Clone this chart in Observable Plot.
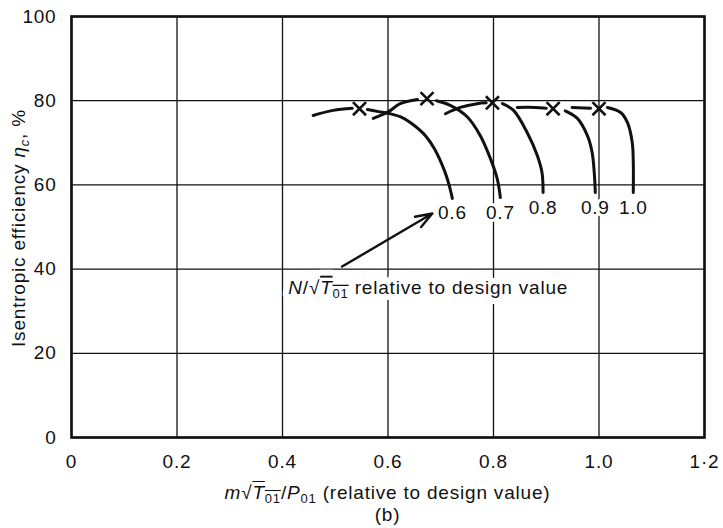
<!DOCTYPE html>
<html>
<head>
<meta charset="utf-8">
<script src="https://cdn.jsdelivr.net/npm/d3@7"></script>
<script src="https://cdn.jsdelivr.net/npm/@observablehq/plot@0.6"></script>
<style>
  html, body { margin: 0; padding: 0; background: #fff; }
  body { font-family: "Liberation Sans", Arial, Helvetica, sans-serif; color: #111; }
  #wrap { position: relative; width: 723px; height: 528px; overflow: hidden; }
  svg text { letter-spacing: 0.8px; }
  #xlabel, #caption { width: 633px; padding-left: 71px; text-align: center; font-size: 19px; line-height: 22px; letter-spacing: 0.8px; }
  #xlabel { margin-top: 7px; }
  #ylabel { position: absolute; left: 19px; top: 228px; transform: translate(-50%, -50%) rotate(-90deg); white-space: nowrap; font-size: 19px; letter-spacing: 0.8px; }
  sub { font-size: 13px; vertical-align: -4px; line-height: 0; }
  .ov { text-decoration: overline; }
</style>
</head>
<body>
<div id="wrap">
  <div id="chart"></div>
  <div id="xlabel"><i>m</i>√<span class="ov"><i>T</i><sub>01</sub></span>/<i>P</i><sub>01</sub> (relative to design value)</div>
  <div id="caption">(b)</div>
  <div id="ylabel">Isentropic efficiency <i>η<sub>c</sub></i>, %</div>
</div>
<script>
// ---- data ----
const speeds = ["0.6", "0.7", "0.8", "0.9", "1.0"];

const flow06 = [0.458, 0.496, 0.532, 0.561, 0.582, 0.604, 0.627, 0.648, 0.671, 0.688, 0.707, 0.716, 0.722];
const eff06  = [76.5, 77.7, 78.2, 77.9, 77.4, 76.9, 76.0, 74.3, 71.7, 68.6, 63.4, 59.9, 56.8];

const flow07 = [0.572, 0.601, 0.623, 0.656, 0.692, 0.718, 0.750, 0.775, 0.794, 0.807, 0.813];
const eff07  = [75.8, 77.4, 79.3, 80.3, 80.0, 78.9, 76.2, 71.7, 66.3, 61.5, 57.0];

const flow08 = [0.709, 0.737, 0.769, 0.786, 0.817, 0.838, 0.864, 0.883, 0.892, 0.894];
const eff08  = [76.9, 78.4, 79.3, 79.5, 79.3, 77.7, 72.4, 67.0, 62.9, 58.2];

const flow09 = [0.845, 0.879, 0.900, 0.936, 0.959, 0.978, 0.987, 0.991, 0.993];
const eff09  = [78.4, 78.4, 78.2, 77.6, 75.8, 71.7, 67.7, 62.9, 58.2];

const flow10 = [0.949, 0.984, 1.016, 1.041, 1.054, 1.063, 1.065, 1.065];
const eff10  = [78.4, 78.2, 78.4, 77.2, 74.8, 70.1, 65.3, 58.2];

// design-point (×) markers on each speed line
const designFlow = [0.546, 0.674, 0.798, 0.913, 1.000];
const designEff  = [78.1, 80.5, 79.5, 78.1, 78.1];

const xTicks = [0, 0.2, 0.4, 0.6, 0.8, 1.0, 1.2];
const xTickLabels = ["0", "0.2", "0.4", "0.6", "0.8", "1.0", "1·2"];
const yTicks = [0, 20, 40, 60, 80, 100];

const annotationText = "N/√T01 relative to design value";
const annotationAt = {flow: 0.411, eff: 35.6};
const arrowFrom = {flow: 0.513, eff: 40.6};
const arrowTo = {flow: 0.684, eff: 53.2};

// ---- build tables ----
const flows = [flow06, flow07, flow08, flow09, flow10];
const effs = [eff06, eff07, eff08, eff09, eff10];
const curves = [];
speeds.forEach((s, k) => {
  flows[k].forEach((f, i) => {
    curves.push({speed: s, seg: f < designFlow[k] ? "a" : "b", flow: f, eff: effs[k][i]});
  });
});
const design = speeds.map((s, k) => ({speed: s, flow: designFlow[k], eff: designEff[k]}));

const ink = "#111";
const gridStyle = {stroke: ink, strokeOpacity: 1, strokeWidth: 1.3};

const chart = Plot.plot({
  width: 723,
  height: 475,
  marginLeft: 71,
  marginRight: 19,
  marginTop: 16,
  marginBottom: 38,
  x: {domain: [0, 1.2]},
  y: {domain: [0, 100]},
  style: {fontFamily: '"Liberation Sans", Arial, Helvetica, sans-serif', fontSize: "19px", color: ink, background: "#fff"},
  marks: [
    Plot.gridX(xTicks, gridStyle),
    Plot.gridY(yTicks, gridStyle),
    Plot.axisX(xTicks, {tickSize: 0, tickPadding: 17, label: null, fill: ink,
      tickFormat: d => xTickLabels[xTicks.indexOf(d)]}),
    Plot.axisY(yTicks, {tickSize: 0, tickPadding: 15, label: null, fill: ink}),
    Plot.text(curves, Plot.selectLast({x: "flow", y: "eff", z: "speed", text: "speed",
      dy: 15, fill: ink, stroke: "#fff", strokeWidth: 6})),
    // white halo under the annotation, then the annotation itself
    Plot.text([annotationAt], {x: "flow", y: "eff", text: () => annotationText, textAnchor: "start",
      fill: "#fff", stroke: "#fff", strokeWidth: 12}),
    Plot.text([annotationAt], {x: "flow", y: "eff", text: () => annotationText, textAnchor: "start",
      fill: ink}),
    Plot.line(curves, {x: "flow", y: "eff", z: d => d.speed + d.seg, curve: "catmull-rom",
      stroke: ink, strokeWidth: 3}),
    Plot.dot(design, {x: "flow", y: "eff", symbol: "times", r: 6, stroke: ink, strokeWidth: 2.6}),
    Plot.arrow([{from: arrowFrom, to: arrowTo}], {x1: d => d.from.flow, y1: d => d.from.eff,
      x2: d => d.to.flow, y2: d => d.to.eff, stroke: ink, strokeWidth: 2.4, headLength: 11, headAngle: 40}),
    Plot.frame({stroke: ink, strokeWidth: 2.6})
  ]
});
document.getElementById("chart").appendChild(chart);

// rich text for the annotation (italics, radical bar, subscripts)
Array.from(chart.querySelectorAll("text"))
  .filter(t => t.textContent === annotationText)
  .forEach(ann => {
    ann.textContent = "";
    const add = (txt, attrs) => {
      const t = document.createElementNS("http://www.w3.org/2000/svg", "tspan");
      t.textContent = txt;
      for (const k in attrs) t.setAttribute(k, attrs[k]);
      ann.appendChild(t);
    };
    add("N", {"font-style": "italic"});
    add("/√", {});
    add("T", {"font-style": "italic", "text-decoration": "overline"});
    add("01", {"font-size": "13px", dy: "4", "text-decoration": "overline"});
    add(" relative to design value", {dy: "-4"});
  });
</script>
</body>
</html>
